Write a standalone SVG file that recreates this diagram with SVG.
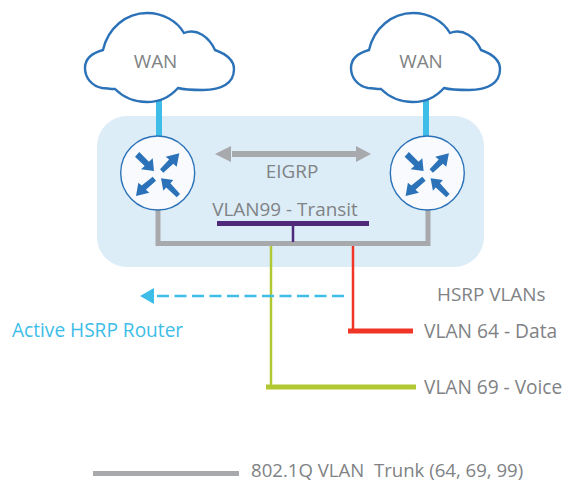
<svg xmlns="http://www.w3.org/2000/svg" width="564" height="483" viewBox="0 0 564 483">
<style>
text{font-family:"Open Sans","Noto Sans","Liberation Sans",sans-serif;font-size:18.9px;fill:#808285;white-space:pre}
.cloud{fill:#fff;stroke:#2b72b8;stroke-width:2.4}
.rt{fill:#f8fafd;stroke:#2b72b8;stroke-width:1.4}
.ar{fill:#2b72b8}
</style>
<defs>
<path id="cl" d="M103 50C108 28 126 13 147 13C163 13 177 21 184 33C197 28 209 37 215 50C226 54 234 60 234 69C234 83 222 90 203 90C194 90 185 90 178 88C170 97 159 102 147 102C134 102 123 97 115 89C110 89 106 88 102 88C92 86 85 78 85 68C85 59 92 53 103 50Z"/>
<g id="rarrows">
<path class="ar" d="M-18.400 -21L-8.800 -11.300L-5 -14.700L-3.700 -2L-16.700 -3.700L-13 -7.100L-22.700 -16.300Z"/>
<path class="ar" d="M2.300 -3.700L11.400 -13.400L8 -16.300L21.600 -19.700L19 -6.300L15.600 -9.200L5.600 -.3Z"/>
<path class="ar" d="M-5 3.700L-16 12.600L-19.400 9.700L-21.700 23L-8.400 19.700L-11.800 16.800L-1.700 7.700Z"/>
<path class="ar" d="M3.300 5.300L15.600 7L12.700 10.200L22.300 21L19 24.300L8.500 14.400L5.600 17.700Z"/>
</g>
</defs>
<rect x="97" y="116" width="387" height="151" rx="30" fill="#dcedf7"/>
<g id="connectors">
<path d="M159 100V140M426 100V140" stroke="#3dbde8" stroke-width="6" fill="none"/>
<path d="M158 205V243.500H428V205" stroke="#a7a9ac" stroke-width="5" fill="none"/>
<path d="M232 154H356" stroke="#a7a9ac" stroke-width="6" fill="none"/>
<path d="M215 154L231 146V162ZM371 154L356 146V162Z" fill="#a7a9ac"/>
<path d="M217 223.500H369" stroke="#4f2a7b" stroke-width="5" fill="none"/>
<path d="M293 226V242" stroke="#4f2a7b" stroke-width="2.500" fill="none"/>
<path d="M271 246V387" stroke="#b1c833" stroke-width="2.500" fill="none"/>
<path d="M266 387H416" stroke="#b1c833" stroke-width="5" fill="none"/>
<path d="M353 246V331" stroke="#f03426" stroke-width="2.500" fill="none"/>
<path d="M348 331H413" stroke="#f03426" stroke-width="5" fill="none"/>
<path d="M344 296H155" stroke="#3dbde8" stroke-width="2.500" stroke-dasharray="12 5.500" fill="none"/>
<path d="M140 296L154 288V304Z" fill="#3dbde8"/>
<path d="M93 473.500H239" stroke="#a7a9ac" stroke-width="5" fill="none"/>
</g>
<g id="wan1"><use href="#cl" class="cloud"/><text x="155.500" y="68" text-anchor="middle">WAN</text></g>
<g id="wan2"><use href="#cl" class="cloud" x="266"/><text x="421" y="68" text-anchor="middle">WAN</text></g>
<g id="router1"><circle class="rt" cx="157.700" cy="173" r="37"/><use href="#rarrows" x="157.700" y="173"/></g>
<g id="router2"><circle class="rt" cx="427.300" cy="173" r="37"/><use href="#rarrows" x="427.300" y="173"/></g>
<g id="labels">
<text x="292" y="178" text-anchor="middle">EIGRP</text>
<text x="285" y="216" text-anchor="middle">VLAN99 - Transit</text>
<text x="437" y="301">HSRP VLANs</text>
<text x="12" y="337" style="fill:#3dbde8;font-size:19.100px">Active HSRP Router</text>
<text x="424" y="338" style="font-size:19.200px">VLAN 64 - Data</text>
<text x="424" y="394" style="font-size:19.100px">VLAN 69 - Voice</text>
<text x="251" y="477" style="font-size:18.600px">802.1Q VLAN  Trunk (64, 69, 99)</text>
</g>
</svg>
